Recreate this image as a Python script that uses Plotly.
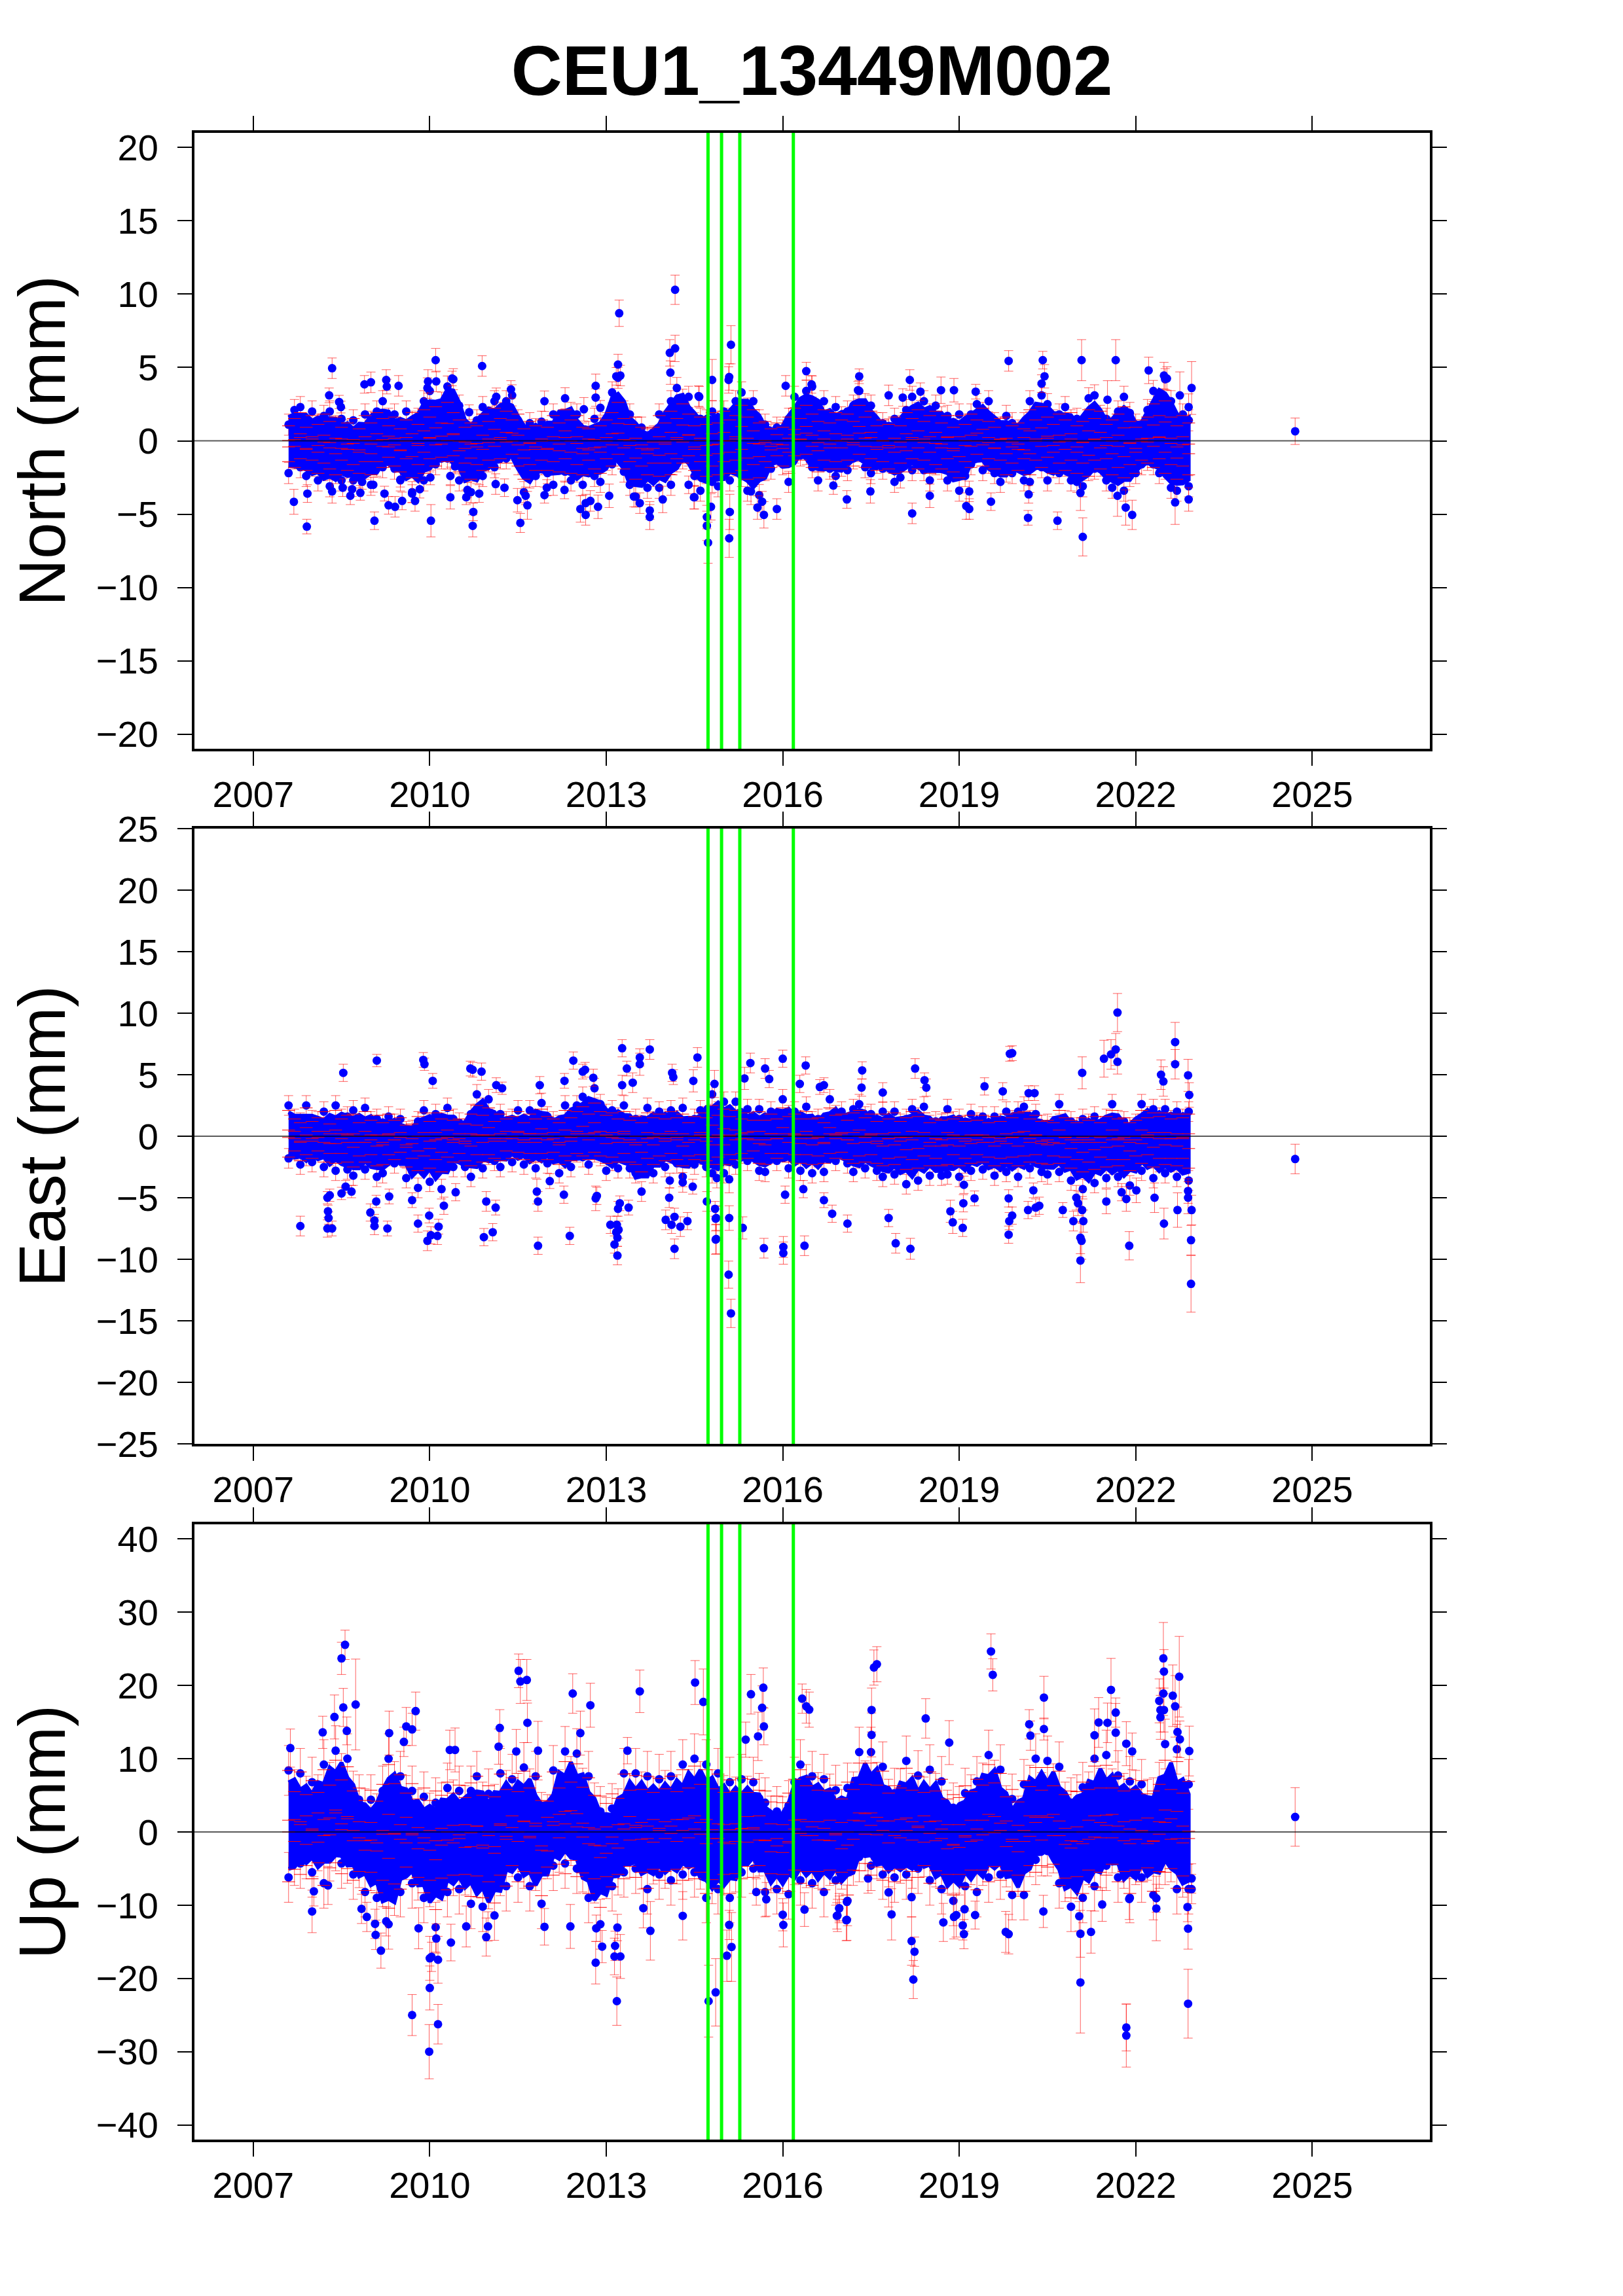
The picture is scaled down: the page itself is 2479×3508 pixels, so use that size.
import plotly.graph_objects as go

TITLE = "CEU1_13449M002"
PANEL_NAMES = ["North (mm)", "East (mm)", "Up (mm)"]
X_TICKS = [2007, 2010, 2013, 2016, 2019, 2022, 2025]
GREEN_YEARS = [2014.73, 2014.96, 2015.27, 2016.18]

# Sampling positions of the dense part of the cloud (decimal years)
cloud_years = [2007.6,2007.7,2007.8,2007.9,
 2008.0,2008.1,2008.2,2008.3,2008.4,2008.5,2008.6,2008.7,2008.8,2008.9,
 2009.0,2009.1,2009.2,2009.3,2009.4,2009.5,2009.6,2009.7,2009.8,2009.9,
 2010.0,2010.1,2010.2,2010.3,2010.4,2010.5,2010.6,2010.7,2010.8,2010.9,
 2011.0,2011.1,2011.2,2011.3,2011.4,2011.5,2011.6,2011.7,2011.8,2011.9,
 2012.0,2012.1,2012.2,2012.3,2012.4,2012.5,2012.6,2012.7,2012.8,2012.9,
 2013.0,2013.1,2013.2,2013.3,2013.4,2013.5,2013.6,2013.7,2013.8,2013.9,
 2014.0,2014.1,2014.2,2014.3,2014.4,2014.5,2014.6,2014.7,2014.8,2014.9,
 2015.0,2015.1,2015.2,2015.3,2015.4,2015.5,2015.6,2015.7,2015.8,2015.9,
 2016.0,2016.1,2016.2,2016.3,2016.4,2016.5,2016.6,2016.7,2016.8,2016.9,
 2017.0,2017.1,2017.2,2017.3,2017.4,2017.5,2017.6,2017.7,2017.8,2017.9,
 2018.0,2018.1,2018.2,2018.3,2018.4,2018.5,2018.6,2018.7,2018.8,2018.9,
 2019.0,2019.1,2019.2,2019.3,2019.4,2019.5,2019.6,2019.7,2019.8,2019.9,
 2020.0,2020.1,2020.2,2020.3,2020.4,2020.5,2020.6,2020.7,2020.8,2020.9,
 2021.0,2021.1,2021.2,2021.3,2021.4,2021.5,2021.6,2021.7,2021.8,2021.9,
 2022.0,2022.1,2022.2,2022.3,2022.4,2022.5,2022.6,2022.7,2022.8,2022.9]

# ---- North ----
north_top = [1.1,2.1,2.3,1.0,
 2.0,1.1,1.7,2.0,1.0,1.5,.7,1.4,.3,1.8,
 1.3,2.0,2.7,1.5,1.8,.7,2.0,1.3,1.5,2.7,
 3.4,2.0,2.6,3.7,4.2,2.4,1.2,.6,1.4,2.3,
 1.6,2.7,1.9,2.7,3.1,1.4,.5,1.2,.8,1.3,
 .6,1.8,1.3,2.9,1.9,1.8,.5,.6,1.5,.9,
 1.2,3.3,4.3,2.0,1.8,.9,.9,.2,.3,1.8,
 1.3,2.7,3.6,2.8,3.0,1.2,1.5,1.4,2.0,1.3,
 2.0,1.5,2.7,3.3,2.2,2.7,1.4,1.1,.4,.9,
 .7,1.5,3.0,2.2,3.4,3.7,1.8,2.7,1.3,2.3,
 1.6,2.0,2.4,3.4,2.5,2.4,1.2,1.2,.8,1.5,
 1.0,2.1,3.0,1.9,2.7,1.8,2.4,1.6,1.7,.8,
 1.8,1.1,1.8,2.5,1.9,2.7,1.2,.9,1.7,1.2,
 .7,1.2,2.7,1.8,3.1,2.5,1.4,1.8,2.3,1.4,
 1.5,.7,2.9,3.1,1.7,1.5,.9,2.0,3.0,1.9,
 1.1,.6,2.1,3.4,2.8,4.2,2.7,1.0,1.8,1.4]
north_bot = [-2.2,-1.2,-1.8,-2.4,
 -1.7,-2.7,-2.0,-3.1,-2.2,-2.7,-1.8,-2.7,-2.5,-1.9,
 -3.0,-1.7,-1.8,-1.1,-1.9,-2.7,-1.6,-3.5,-2.0,-2.7,
 -1.4,-1.6,-1.2,-1.2,-.8,-2.7,-2.0,-3.5,-2.2,-2.4,
 -1.4,-1.8,-1.2,-1.2,-.6,-1.6,-3.5,-2.5,-2.4,-1.6,
 -2.2,-3.0,-1.5,-2.1,-2.7,-2.1,-3.0,-1.7,-2.4,-2.8,
 -1.3,-1.6,-.6,-2.1,-3.0,-3.8,-2.2,-3.2,-2.4,-3.2,
 -2.0,-3.0,-1.4,-1.2,-1.0,-2.4,-3.4,-2.2,-2.8,-3.1,
 -2.0,-2.7,-1.7,-2.4,-3.4,-2.4,-3.7,-2.0,-1.9,-.9,
 -1.6,-2.8,-.8,-1.0,-.9,-1.8,-2.7,-1.3,-1.9,-2.4,
 -1.7,-2.0,-1.2,-.7,-1.8,-2.2,-1.5,-1.9,-1.4,-2.8,
 -2.5,-1.0,-2.0,-1.5,-2.0,-2.7,-1.6,-1.9,-2.7,-2.0,
 -3.4,-2.4,-1.6,-.5,-2.0,-1.5,-2.2,-2.8,-2.1,-2.2,
 -1.3,-2.7,-2.8,-1.0,-1.8,-2.7,-1.8,-2.2,-1.7,-2.7,
 -2.8,-3.1,-2.0,-1.9,-1.7,-2.7,-3.2,-2.2,-3.4,-2.4,
 -2.2,-1.6,-1.3,-1.6,-2.2,-1.9,-3.2,-3.4,-2.2,-3.1]
north_inner_hi = [.3,.8,1.2,.2,
 1.0,.4,1.1,.6,.9,.2,.5,.8,.1,1.0,
 .5,1.2,.8,.3,.9,.1,.7,1.2,.4,1.4,
 .9,1.6,.5,1.9,1.2,.7,.2,.5,.3,1.1,
 .6,1.5,.8,1.3,.7,1.1,.1,.6,.3,.7,
 .2,1.0,.5,1.4,.7,1.0,.2,.1,.8,.3,
 .7,1.2,1.9,.8,.4,.9,.2,.1,.2,1.0,
 .5,1.3,.8,1.8,1.1,.3,.9,.4,1.2,.5,
 1.3,.7,1.0,1.7,.9,1.4,.5,.6,.1,.5,
 .2,.9,1.5,.8,1.7,1.1,.6,1.4,.5,1.2,
 .7,1.1,.6,1.7,.9,1.3,.3,.7,.4,.9,
 .3,1.2,.8,1.4,.6,1.0,1.3,.5,1.0,.2,
 1.0,.4,1.1,.7,1.5,.6,.2,.8,.9,.3,
 .5,.1,1.4,.7,1.6,.9,.4,1.1,.7,1.2,
 .3,.6,1.4,.8,1.3,.4,.7,1.1,1.6,.6,
 .2,.7,.9,1.8,1.0,2.0,.9,.3,1.0,.5]
north_inner_lo = [-.7,-1.1,-.5,-1.3,
 -.6,-1.5,-.8,-1.2,-1.6,-.6,-1.3,-.9,-1.5,-.7,
 -1.6,-.7,-1.1,-.4,-1.0,-1.4,-.5,-1.8,-.9,-1.5,
 -.5,-1.0,-.4,-.7,-.3,-1.4,-.8,-1.9,-.9,-1.3,
 -.6,-1.1,-.5,-.8,-.2,-1.0,-1.9,-.9,-1.3,-.6,
 -1.3,-.7,-1.4,-.5,-1.5,-.9,-1.6,-.6,-1.2,-1.5,
 -.5,-1.0,-.2,-1.2,-.7,-1.9,-1.0,-1.6,-.8,-1.7,
 -.8,-1.6,-.5,-.8,-.3,-1.3,-.7,-1.7,-1.0,-1.6,
 -.7,-1.5,-.6,-1.3,-1.9,-.9,-1.8,-.7,-1.1,-.3,
 -1.0,-1.5,-.3,-.6,-.2,-1.1,-1.4,-.6,-1.2,-.7,
 -1.2,-.6,-1.0,-.2,-1.1,-.5,-1.3,-.7,-1.2,-1.5,
 -.8,-1.4,-.5,-1.2,-.6,-1.5,-.9,-1.2,-.5,-1.4,
 -1.8,-.7,-1.1,-.2,-1.0,-.5,-1.2,-.6,-1.6,-.8,
 -1.3,-.5,-1.6,-.6,-1.1,-.4,-1.5,-.8,-1.3,-.6,
 -1.5,-.8,-1.7,-.6,-1.2,-.5,-1.6,-1.1,-1.8,-.9,
 -1.5,-.6,-.8,-1.1,-.5,-1.5,-.9,-1.9,-1.0,-1.6]
north_sigma = 0.72
north_out_year = [2007.69,2007.91,2007.92,2008.29,2008.34,2008.46,2008.49,2008.34,2008.52,2008.65,2008.68,2008.82,2008.89,2009.0,2008.85,2009.04,2009.06,2009.23,2009.26,2009.27,2009.47,2009.3,2009.41,2009.53,2009.5,2009.75,2009.83,2009.7,2010.02,2010.01,2010.1,2009.97,2009.96,2010.11,2010.38,2010.35,2010.35,2010.43,2010.64,2010.62,2010.74,2010.73,2010.84,2010.89,2010.67,2011.12,2011.27,2011.13,2011.49,2011.54,2011.63,2011.66,2011.38,2011.95,2011.99,2011.95,2012.29,2012.56,2012.65,2012.65,2012.73,2012.86,2012.82,2012.82,2012.62,2012.9,2013.05,2013.22,2013.2,2013.24,2013.17,2014.17,2014.08,2014.17,2014.09,2013.74,2013.74,2013.57,2013.47,2013.96,2014.49,2014.58,2014.4,
 2015.12,2014.8,2015.09,2015.08,2014.57,2014.73,2014.71,2014.71,2015.09,2015.1,2014.78,2014.5,2015.68,2015.9,2015.57,2015.65,2015.46,2016.05,2016.4,2016.49,2017.3,2017.28,2018.16,2017.8,2018.04,2018.34,2018.69,2018.91,2019.28,2019.84,2020.42,2020.45,2020.4,2021.08,2021.66,2022.22,2022.48,2022.53,2022.95,2022.9,2022.75,2021.52,2018.2,2020.17,2020.67,2021.1,2021.83,2021.94,2019.54,2019.12,2019.17,2018.5,2017.49,2017.09,2016.86,2022.67,2022.9,2021.06,2021.69,2019.17,2020.18,2024.71]
north_out_val = [-4.16,-5.85,-3.6,3.1,4.95,2.65,2.3,-3.45,-3.2,-3.75,-3.3,-3.55,3.85,3.99,-2.8,-3.0,-5.45,-3.6,4.15,3.7,3.75,-4.4,-4.5,-4.1,-2.65,-4.1,-3.3,-3.6,-5.45,-2.5,5.5,4.05,3.6,4.05,4.25,-3.85,-2.4,-1.75,-3.35,-3.85,-4.85,-5.8,-3.6,5.1,1.95,-2.95,-3.2,3.0,-4.05,-5.6,-3.75,-4.4,3.5,-3.7,-3.2,2.7,-3.35,-4.65,-5.05,-4.25,-4.1,-4.5,3.75,2.95,2.15,2.25,-3.75,8.7,5.2,4.45,4.4,10.3,6.0,6.3,4.65,-5.2,-4.75,-4.25,-3.8,-4.0,-3.85,3.0,-3.0,
 6.55,4.15,4.35,4.15,3.05,-6.95,-5.8,-5.2,-6.65,-4.85,-4.5,-3.85,-5.05,-4.65,-4.55,-4.15,-3.45,3.75,4.75,3.85,4.4,3.45,4.15,3.1,2.95,3.35,3.45,3.45,3.35,5.45,5.5,4.4,3.9,5.5,5.5,4.8,4.45,4.25,3.6,2.3,3.1,2.8,-4.95,-5.25,-5.45,-6.55,-4.55,-5.05,-4.15,-4.45,-4.65,-3.75,-3.45,-4.0,-3.05,-4.2,-4.0,-3.55,-3.75,-3.45,-3.65,0.65]
north_out_err = [.85,.5,.6,.5,.7,.45,.4,.8,.6,.6,.5,.5,.6,.7,.5,.5,.6,.5,.7,.5,.7,.6,.7,.6,.5,.7,.6,.6,1.1,.5,.8,.8,.7,.7,.5,.8,.6,.5,.5,.5,.6,.75,.6,.7,.5,.7,.6,.6,.8,.65,.6,.95,.6,.55,.55,.7,.6,.9,.7,.6,.7,.8,.8,.6,.8,.5,.8,.9,.7,.7,.6,1.0,.9,.9,.8,.85,.6,.7,.7,.9,.8,.7,.6,
 1.3,1.4,.9,.9,.7,1.4,1.0,.8,1.3,1.2,.9,.8,.9,.7,.8,.7,.9,.7,.6,.6,.5,.6,.7,.7,.6,.6,.9,.8,.5,.7,.6,.8,.6,1.4,1.4,.9,.9,.8,1.8,.9,1.6,1.3,.7,.5,.6,1.3,1.2,1.0,.6,.9,.7,.8,.8,.6,.6,1.5,.8,1.2,1.4,.7,.6,.9]

# ---- East ----
east_top = [2.5,1.4,1.1,2.5,
 1.3,1.2,2.0,.7,2.5,1.4,1.6,2.1,.8,2.3,
 1.2,1.4,.9,1.6,1.0,1.4,.4,.5,1.2,2.1,
 1.0,1.8,1.1,2.3,1.4,1.1,.6,1.8,3.4,2.3,
 3.0,1.1,1.8,1.2,1.4,2.1,.8,2.1,1.4,2.7,
 1.6,1.2,.9,2.5,1.5,2.5,3.2,2.2,3.9,2.6,
 1.8,2.1,1.5,2.5,1.2,1.4,.9,2.3,1.2,2.0,
 1.4,2.1,1.3,2.3,.8,1.4,2.1,1.6,3.4,2.0,
 2.8,1.7,2.8,1.4,2.2,1.2,2.2,1.1,2.0,1.4,
 3.0,1.7,2.0,1.3,2.4,1.2,1.4,.9,3.0,1.7,
 2.0,1.1,2.2,2.6,1.6,1.8,1.0,2.0,1.2,2.0,
 1.0,1.4,2.2,1.5,2.4,.9,1.2,1.0,2.2,1.2,
 1.4,.9,1.8,1.1,1.6,.8,1.6,1.0,2.0,1.3,
 2.0,2.4,1.3,1.8,.9,1.0,.8,2.6,1.3,1.2,
 .7,1.4,1.0,1.6,.8,1.4,2.6,1.3,1.2,.7,
 1.0,2.6,1.6,2.2,1.5,2.2,1.3,2.0,1.4,2.0]
east_bot = [-1.8,-1.1,-2.3,-1.6,
 -2.1,-1.0,-2.5,-1.6,-2.8,-1.3,-2.7,-3.2,-1.9,-2.7,
 -1.5,-3.3,-3.0,-1.6,-2.2,-1.2,-3.4,-2.2,-4.2,-1.9,
 -3.7,-2.4,-4.3,-2.0,-2.5,-1.4,-2.5,-3.3,-1.6,-2.6,
 -1.5,-2.0,-2.5,-1.1,-2.1,-1.1,-2.3,-1.4,-2.6,-1.3,
 -2.2,-1.2,-3.0,-1.8,-2.5,-1.3,-1.7,-2.3,-1.3,-1.6,
 -2.8,-2.0,-2.6,-1.3,-2.6,-3.0,-4.5,-2.3,-3.0,-1.7,
 -2.5,-1.4,-2.2,-3.3,-1.8,-2.3,-1.5,-2.5,-3.0,-2.0,
 -3.0,-1.5,-2.3,-1.4,-2.0,-1.1,-2.8,-2.9,-1.4,-2.0,
 -1.3,-2.6,-1.5,-2.8,-1.6,-3.0,-1.7,-2.9,-1.3,-2.0,
 -1.1,-2.2,-2.9,-1.8,-2.6,-1.5,-2.8,-3.3,-2.2,-3.1,
 -2.0,-3.9,-2.4,-3.6,-1.8,-3.2,-2.1,-3.2,-3.1,-1.6,
 -3.3,-2.2,-2.8,-1.5,-2.7,-1.9,-3.2,-2.1,-2.9,-1.9,
 -3.3,-1.8,-2.6,-1.6,-2.9,-3.1,-1.7,-2.9,-1.9,-3.6,
 -2.4,-4.3,-2.8,-3.8,-2.0,-3.4,-2.3,-3.3,-2.4,-4.0,
 -1.8,-2.8,-1.5,-3.4,-2.1,-3.0,-2.1,-3.3,-2.2,-3.6]
east_inner_hi = [1.3,.6,.3,1.5,
 .4,.7,1.2,.2,1.3,.6,.9,1.0,.3,1.2,
 .5,.9,.3,1.0,.5,.7,.1,.2,.8,1.1,
 .4,1.1,.6,1.3,.5,.6,.2,1.0,1.7,.9,
 1.5,.4,1.0,.6,.8,1.2,.3,1.0,.6,1.4,
 .8,.6,.3,1.3,.7,1.2,1.6,1.0,1.9,1.2,
 .9,1.1,.6,1.2,.5,.8,.3,1.1,.7,1.0,
 .6,1.2,.7,1.0,.3,.8,1.1,.7,1.7,.9,
 1.4,.8,1.3,.6,1.1,.5,1.2,.5,1.0,.6,
 1.5,.8,1.0,.6,1.2,.6,.7,.3,1.5,.9,
 1.0,.5,1.1,1.3,.7,1.0,.4,1.0,.6,1.1,
 .4,.7,1.2,.8,1.1,.3,.6,.5,1.1,.6,
 .8,.4,.9,.5,.9,.3,.8,.4,1.0,.7,
 1.1,1.2,.6,.9,.4,.5,.3,1.3,.7,.5,
 .3,.7,.5,.8,.3,.8,1.3,.6,.7,.3,
 .5,1.3,.7,1.1,.8,1.1,.6,1.0,.7,1.0]
east_inner_lo = [-.9,-.4,-1.2,-.7,
 -1.0,-.4,-1.3,-.6,-1.4,-.6,-1.3,-1.7,-.8,-1.3,
 -.7,-1.6,-1.5,-.7,-1.1,-.5,-1.7,-1.0,-2.0,-.8,
 -1.8,-1.1,-2.1,-.9,-1.3,-.6,-1.2,-1.6,-.7,-1.3,
 -.7,-1.0,-1.2,-.4,-1.0,-.5,-1.1,-.6,-1.3,-.6,
 -1.1,-.5,-1.5,-.8,-1.2,-.6,-.8,-1.1,-.5,-.8,
 -1.4,-.9,-1.3,-.6,-1.3,-1.5,-2.1,-1.0,-1.5,-.8,
 -1.2,-.6,-1.1,-1.6,-.8,-1.1,-.7,-1.2,-1.5,-.9,
 -1.5,-.7,-1.1,-.6,-1.0,-.4,-1.4,-1.5,-.6,-1.0,
 -.6,-1.3,-.7,-1.4,-.7,-1.5,-.8,-1.4,-.6,-1.0,
 -.5,-1.1,-1.4,-.8,-1.3,-.7,-1.4,-1.6,-1.0,-1.5,
 -.9,-1.9,-1.1,-1.8,-.8,-1.6,-1.0,-1.6,-1.5,-.7,
 -1.6,-1.0,-1.4,-.7,-1.3,-.9,-1.6,-1.0,-1.4,-.9,
 -1.6,-.8,-1.3,-.7,-1.4,-1.5,-.8,-1.4,-.9,-1.8,
 -1.1,-2.1,-1.3,-1.9,-.9,-1.7,-1.1,-1.6,-1.1,-2.0,
 -.8,-1.4,-.7,-1.7,-1.0,-1.5,-1.0,-1.6,-1.0,-1.8]
east_sigma = 0.8
east_out_year = [2007.8,2008.26,2008.34,2008.26,2008.3,2008.27,2008.28,2008.53,2008.5,2008.57,2008.67,2009.1,2009.89,2009.91,2010.05,2008.99,2009.06,2009.06,2009.09,2009.28,2009.31,2009.8,2009.7,2009.99,2009.96,2010.02,2010.13,2010.15,2010.24,2010.44,2010.69,2010.73,2010.88,2010.96,2011.12,2010.92,2011.07,2011.13,2011.23,2011.84,2012.38,2011.84,2011.82,2012.04,2012.28,2011.87,2012.29,2012.44,2012.6,2012.64,2012.78,2013.27,2013.74,2013.57,2013.57,2013.35,2013.45,2013.27,2014.12,2014.14,2014.55,2014.48,2013.07,2013.18,2013.21,2013.17,2013.19,2013.14,2013.19,2013.23,2013.2,2013.38,2012.82,2012.84,2014.01,2014.11,2014.16,2014.26,2014.38,2014.16,2014.07,2014.3,2014.47,2014.08,2014.71,2014.85,2014.86,2014.86,2014.84,
 2015.08,2015.12,2014.87,2014.87,2015.09,2015.32,2015.09,2014.88,2015.35,2015.45,2015.7,2016.0,2015.77,2016.39,2016.29,2016.63,2016.7,2017.35,2017.34,2017.7,2018.25,2018.41,2018.44,2019.43,2019.74,2019.86,2019.9,2020.18,2020.28,2021.09,2021.46,2021.58,2021.66,2021.69,2021.69,2022.67,2022.67,2022.89,2022.43,2022.47,2022.91,2024.71,
 2015.68,2016.01,2016.01,2016.37,2016.35,2016.04,2016.7,2016.84,2017.1,2017.8,2017.92,2018.17,2018.85,2018.89,2019.06,2019.08,2019.07,2019.26,2019.84,2019.85,2019.84,2019.9,2020.17,2020.26,2020.3,2020.36,2020.76,2020.94,2021.11,2021.09,2021.06,2021.08,2021.06,2021.89,2021.5,2021.84,2022.32,2022.48,2022.71,2022.94,2022.94,2022.95,2022.89,2022.89,2022.01,2021.76,2021.02,2020.99]
east_out_val = [-7.3,-7.5,-7.5,-5.0,-4.8,-6.1,-6.65,5.15,-4.65,-4.1,-4.5,6.15,6.2,5.85,4.5,-6.2,-7.3,-6.85,-5.3,-7.5,-4.9,-7.1,-5.2,-6.45,-8.5,-8.05,-8.1,-7.35,-5.65,-4.55,5.5,5.4,5.25,-5.3,-5.8,-8.2,-7.8,4.15,3.9,-8.9,-8.1,-5.3,-4.5,-3.65,-4.75,4.15,4.5,6.15,5.25,5.4,4.75,7.15,7.05,6.4,5.85,5.5,4.35,4.15,5.15,4.8,6.4,4.5,-7.2,-7.2,-7.6,-7.8,-8.25,-8.8,-9.7,-5.45,-5.9,-5.8,-5.05,-4.85,-6.8,-7.2,-6.55,-7.35,-6.9,-9.15,-5.0,-3.75,-4.1,-3.6,-5.3,-5.9,-6.7,-8.4,4.25,
 -11.25,-14.4,-8.35,-6.65,-6.65,-7.45,-3.5,-3.4,4.7,5.95,5.5,6.3,4.65,5.75,4.25,4.0,4.15,5.35,3.95,3.55,5.5,4.55,3.95,4.05,3.65,6.7,6.75,3.5,3.5,5.15,6.3,6.65,7.05,10.05,6.05,7.65,5.85,4.95,5.0,4.45,3.35,-1.85,
 -9.1,-9.0,-9.5,-8.9,-4.3,-4.75,-5.2,-6.3,-7.1,-6.65,-8.7,-9.15,-6.1,-7.0,-7.45,-3.95,-5.45,-5.05,-5.05,-6.9,-8.0,-6.45,-6.0,-4.4,-5.8,-5.65,-6.0,-6.9,-6.9,-6.0,-8.25,-8.5,-10.1,-8.9,-5.3,-5.1,-5.0,-7.1,-6.0,-8.45,-12.0,-6.0,-4.45,-5.0,-4.4,-4.55,-5.45,-5.0]
east_out_err = [.8,.7,.6,.5,.5,.5,.5,.7,.5,.5,.5,.5,.6,.5,.6,.7,.7,.5,.5,.6,.6,.7,.6,.6,.8,.7,.7,.6,.7,.7,.6,.6,.7,.8,.6,.7,.7,.6,.5,.7,.7,.8,1.0,.6,.7,.7,.6,.7,.6,.6,.7,.7,.8,.7,.9,.6,.8,.8,.7,.6,.8,.9,.7,.7,.7,.7,.7,.7,.75,.6,.6,.6,1.0,.7,.8,.7,.7,.8,.7,.8,.8,.8,.6,.6,.8,.6,1.0,1.2,1.1,
 1.1,1.15,1.2,1.0,1.0,.9,1.1,.8,.9,.8,.8,.7,.7,.7,.7,.6,.6,.7,.7,.8,.8,.6,.7,.7,.7,.6,.6,.6,.6,1.3,1.5,1.2,1.3,1.55,1.0,1.6,1.2,1.3,1.2,1.2,1.0,1.2,
 .8,.85,.9,.8,.7,.7,.6,.7,.7,.7,.8,.85,.9,.9,.7,.7,.7,.6,.7,.7,.7,.7,.7,.6,.7,.7,.6,.8,.9,1.1,1.3,1.5,1.8,1.15,1.0,1.0,1.2,1.25,1.4,1.2,2.3,1.2,1.0,1.3,1.0,.7,1.0,1.0]

# ---- Up ----
up_top = [8.4,5.1,8.0,4.2,
 6.8,4.4,9.2,6.1,11.1,7.3,10.0,4.9,4.4,2.5,
 4.4,1.8,5.6,10.0,6.2,7.6,4.3,5.6,2.4,4.8,
 1.9,4.0,3.3,6.0,3.7,5.6,2.9,5.6,7.6,3.4,
 5.2,3.1,8.0,5.0,7.2,4.6,8.8,5.2,7.6,2.0,
 1.7,8.4,5.1,11.0,6.9,10.7,5.3,7.6,3.3,2.8,
 1.3,3.2,2.5,8.0,4.6,8.0,4.8,7.6,4.1,7.2,
 5.0,7.6,4.4,9.2,5.1,10.0,6.2,9.2,5.1,8.0,
 4.3,6.8,4.1,7.2,4.2,6.8,4.6,4.0,1.5,2.8,
 1.4,3.6,6.8,9.2,5.8,7.6,4.7,7.2,4.5,5.7,
 2.4,6.0,4.8,10.9,6.3,10.9,6.1,8.9,3.8,5.3,
 5.2,9.7,4.6,7.7,4.1,8.5,4.6,6.9,2.3,3.3,
 2.8,5.3,4.4,6.9,6.0,10.5,6.4,8.5,2.9,4.5,
 1.5,6.5,5.7,10.0,4.7,9.7,5.9,8.9,3.4,4.0,
 4.4,6.1,4.8,10.0,5.3,10.5,5.2,7.7,4.6,6.9,
 5.0,6.5,3.8,4.0,6.1,12.0,5.0,11.3,3.8,6.5]
up_bot = [-6.2,-3.9,-4.3,-3.0,
 -5.5,-1.9,-7.0,-3.3,-1.9,-4.3,-3.6,-5.8,-4.2,-8.2,
 -4.6,-9.0,-6.8,-12.6,-8.0,-8.2,-3.1,-7.0,-5.9,-9.0,
 -6.8,-13.0,-6.0,-8.2,-5.3,-7.8,-5.2,-9.8,-5.5,-10.2,
 -7.1,-11.4,-5.3,-7.4,-2.7,-6.2,-4.3,-7.4,-4.6,-9.8,
 -3.0,-4.6,-2.1,-4.3,-1.2,-5.0,-4.8,-9.0,-6.3,-12.6,
 -5.7,-7.4,-5.2,-5.5,-2.8,-5.0,-4.4,-7.8,-3.7,-5.8,
 -4.3,-6.6,-3.7,-5.8,-3.2,-5.5,-4.4,-9.0,-6.4,-7.8,
 -5.2,-9.0,-4.8,-5.5,-2.8,-5.0,-2.6,-8.2,-4.9,-7.8,
 -5.0,-8.5,-3.8,-6.6,-4.2,-7.0,-4.3,-8.2,-3.9,-6.6,
 -4.4,-9.4,-3.9,-3.4,-1.9,-4.6,-3.0,-5.8,-4.1,-6.2,
 -3.6,-5.8,-4.3,-5.0,-2.7,-6.6,-4.1,-7.8,-5.0,-9.4,
 -5.2,-7.4,-3.8,-8.2,-3.9,-6.2,-2.9,-5.8,-4.1,-8.6,
 -5.4,-8.6,-2.7,-3.8,-2.6,-2.6,-2.2,-7.0,-6.1,-10.2,
 -5.7,-9.0,-3.8,-7.4,-4.6,-4.6,-2.2,-6.2,-4.3,-9.0,
 -3.8,-6.2,-3.2,-8.6,-4.3,-3.8,-3.4,-7.8,-5.5,-7.8]
up_inner_hi = [5.0,2.1,4.8,1.7,
 3.6,2.0,5.1,3.0,6.4,3.7,5.5,2.2,2.6,.9,
 2.3,.8,3.1,5.8,3.2,4.4,1.9,3.2,1.1,2.6,
 .9,2.2,1.6,3.4,1.9,3.0,1.3,3.3,4.2,1.6,
 2.9,1.4,4.5,2.4,4.0,2.1,4.9,2.6,4.2,.9,
 .8,4.8,2.6,6.2,3.4,5.9,2.7,4.0,1.6,1.5,
 .5,1.8,1.2,4.5,2.3,4.3,2.4,4.2,2.0,3.9,
 2.5,4.2,2.1,5.1,2.6,5.6,3.1,5.1,2.5,4.5,
 2.0,3.7,2.1,3.9,2.0,3.8,2.3,2.2,.7,1.5,
 .6,1.9,3.8,5.1,2.9,4.1,2.3,3.9,2.2,3.0,
 1.1,3.4,2.4,6.0,3.1,6.0,3.0,4.9,1.9,2.9,
 2.6,5.3,2.3,4.2,2.0,4.8,2.2,3.8,1.1,1.7,
 1.3,2.9,2.1,3.8,3.0,5.8,3.3,4.6,1.4,2.4,
 .7,3.6,2.8,5.4,2.3,5.4,2.9,4.9,1.7,2.2,
 2.1,3.4,2.4,5.6,2.6,5.7,2.6,4.2,2.2,3.8,
 2.4,3.6,1.8,2.2,3.1,6.4,2.4,6.2,1.9,3.5]
up_inner_lo = [-3.4,-1.7,-2.4,-1.2,
 -3.0,-.8,-3.9,-1.5,-.8,-2.3,-1.6,-3.2,-2.0,-4.6,
 -2.1,-4.9,-3.2,-7.0,-3.7,-4.4,-1.4,-3.8,-2.8,-4.9,
 -3.2,-7.2,-2.9,-4.5,-2.5,-4.3,-2.4,-5.4,-2.6,-5.6,
 -3.4,-6.3,-2.5,-4.0,-1.2,-3.4,-2.0,-4.0,-2.2,-5.3,
 -1.4,-2.5,-1.0,-2.3,-.5,-2.7,-2.2,-5.0,-3.0,-6.9,
 -2.7,-4.1,-2.4,-3.0,-1.3,-2.8,-2.1,-4.3,-1.7,-3.2,
 -2.0,-3.6,-1.7,-3.2,-1.5,-3.0,-2.1,-5.0,-3.1,-4.3,
 -2.4,-5.0,-2.3,-3.0,-1.3,-2.8,-1.2,-4.5,-2.3,-4.3,
 -2.4,-4.7,-1.8,-3.6,-2.0,-3.9,-2.0,-4.5,-1.8,-3.6,
 -2.1,-5.2,-1.8,-1.9,-.9,-2.5,-1.4,-3.2,-1.9,-3.4,
 -1.7,-3.2,-2.0,-2.8,-1.2,-3.6,-1.9,-4.3,-2.4,-5.2,
 -2.4,-4.1,-1.8,-4.5,-1.8,-3.4,-1.3,-3.2,-1.9,-4.7,
 -2.5,-4.7,-1.2,-2.1,-1.2,-1.4,-1.0,-3.9,-2.9,-5.6,
 -2.7,-5.0,-1.8,-4.1,-2.1,-2.5,-1.0,-3.4,-2.0,-5.0,
 -1.8,-3.4,-1.5,-4.7,-2.0,-2.1,-1.6,-4.3,-2.6,-4.3]
up_sigma = 3.4
up_out_year = [2007.63,2008.0,2008.03,2008.5,2008.56,2008.74,2008.53,2008.18,2008.38,2008.59,2008.27,2009.31,2009.6,2009.76,2009.7,2009.56,2009.17,2009.08,2009.07,2009.26,2008.93,2008.84,2010.0,2009.7,2010.14,2009.99,2010.0,2010.03,2010.14,2010.11,2009.81,2010.36,2010.62,2010.96,2010.99,2010.34,2010.43,2011.19,2011.17,2011.51,2011.54,2011.65,2011.66,2011.84,2011.47,2011.95,2012.39,2012.43,2012.73,2012.56,2013.57,2013.36,2012.82,2012.93,2013.15,2013.14,2013.24,2013.18,2012.83,2013.19,2013.63,2013.75,2014.3,2014.51,2014.65,2014.74,2014.86,2015.05,2015.13,2015.09,2015.46,2015.67,2015.65,2015.68,2015.37,2015.58,2016.01,2016.0,2015.72,2015.55,2016.37,2016.33,2016.4,2016.45,2016.93,2017.09,2016.96,
 2017.55,2017.6,2017.51,2017.51,2018.43,2018.83,2019.54,2019.57,2020.44,2020.44,2020.19,2020.21,2021.58,2021.66,2021.66,2021.37,2021.52,2021.3,2022.47,2022.48,2022.74,2022.47,2022.4,2022.63,2022.67,2022.42,2022.48,2022.42,2022.71,2022.91,2022.75,2021.84,2021.94,2024.71,
 2018.22,2018.24,2018.19,2017.85,2017.8,2018.19,2018.73,2019.08,2019.06,2018.95,2018.91,2019.09,2019.27,2019.79,2019.84,2020.43,2021.06,2021.06,2021.24,2021.04,2021.43,2021.84,2021.84,2022.89,2022.89,2022.88,2022.35,2022.35,2021.89,2022.95,2022.95,2017.45,2016.92,2016.96,2017.08,2017.09]
up_out_val = [11.45,-10.85,-8.1,23.7,25.55,17.4,17.0,13.6,15.7,13.8,-7.3,13.5,14.4,16.5,14.0,12.3,-16.2,-14.05,-12.55,-12.2,-11.6,-10.5,-21.3,-25.0,-26.25,-30.0,-17.25,-17.05,-17.45,-14.55,-13.15,-15.1,-12.9,-14.35,-12.9,11.2,11.2,14.2,11.65,22.0,20.55,20.75,14.9,11.1,11.0,-12.95,-12.9,18.9,17.3,13.5,19.2,11.1,-17.85,-15.65,-15.55,-17.0,-17.0,-23.1,-13.15,-13.05,-10.4,-13.5,-11.45,20.4,17.75,-23.1,-21.9,-16.9,-15.7,-12.7,18.8,19.7,16.95,14.4,12.6,13.05,-12.7,-11.3,-9.2,-8.2,-10.6,18.2,17.15,16.7,-11.4,-12.0,-10.4,
 22.45,22.9,16.65,13.25,15.5,12.2,24.65,21.45,18.35,14.05,14.7,13.15,19.4,16.3,13.55,14.95,14.9,13.2,23.7,21.9,21.2,18.9,17.9,18.6,17.15,16.65,16.65,15.65,13.65,11.05,12.65,12.05,11.0,2.05,
 -20.15,-16.35,-14.9,-11.25,-8.25,-8.9,-12.35,-13.95,-12.75,-11.35,-11.6,-10.55,-11.35,-13.65,-13.95,-10.85,-13.9,-20.55,-13.65,-11.5,-9.9,-26.7,-27.8,-23.45,-13.2,-10.25,-10.45,-9.05,-9.15,-7.8,-6.35,-6.35,-11.45,-10.45,-12.05,-9.55]
up_out_err = [2.6,2.9,2.0,2.2,2.0,6.2,2.6,2.2,3.0,1.9,2.6,3.0,2.6,2.6,2.2,2.0,2.4,2.0,2.0,2.0,2.0,2.0,3.0,2.8,2.7,3.7,3.0,2.0,3.2,2.0,2.8,2.5,2.8,2.6,2.0,2.7,3.0,2.5,2.4,2.3,3.0,2.8,2.7,4.0,3.0,2.5,3.0,2.7,3.0,3.0,2.9,1.8,2.9,2.2,2.0,2.5,3.0,3.3,1.8,1.8,2.7,4.0,3.3,3.0,4.5,4.9,4.6,3.5,4.7,2.0,2.7,2.7,3.0,2.5,2.4,3.3,3.0,2.2,2.3,1.8,2.3,2.0,2.3,2.4,2.2,2.8,2.0,
 2.4,2.4,3.0,3.0,2.7,3.0,2.4,2.2,2.9,1.5,2.0,2.0,4.3,2.0,4.0,3.4,2.7,3.6,4.9,3.0,5.5,3.0,3.0,4.2,4.2,3.0,3.0,3.0,3.4,3.4,2.5,3.0,2.5,4.0,
 2.6,2.0,3.3,3.5,2.0,2.7,2.6,2.0,2.0,3.0,3.0,3.0,1.9,2.8,2.7,2.2,3.2,6.9,2.9,2.0,2.3,3.2,4.3,4.7,2.8,2.0,4.4,1.9,2.8,2.0,2.0,2.0,1.8,1.7,2.8,2.3]

panels = [
    (north_top, north_bot, north_inner_hi, north_inner_lo, north_sigma,
     north_out_year, north_out_val, north_out_err, [-21, 21], list(range(-20, 21, 5))),
    (east_top, east_bot, east_inner_hi, east_inner_lo, east_sigma,
     east_out_year, east_out_val, east_out_err, [-25, 25], list(range(-25, 26, 5))),
    (up_top, up_bot, up_inner_hi, up_inner_lo, up_sigma,
     up_out_year, up_out_val, up_out_err, [-42, 42], list(range(-40, 41, 10))),
]

W, H = 2479, 3508
PAGE = 8  # the page's own margin shifts the figure by this many pixels
FRAME_X = (297 - PAGE, 2184 - PAGE)
FRAME_Y = [(203 - PAGE, 1144 - PAGE), (1266 - PAGE, 2206 - PAGE), (2329 - PAGE, 3269 - PAGE)]
FONT = "Liberation Sans"
BLUE = "#0000FF"
RED = "rgba(255,0,0,0.62)"


def body_edge(values):
    """Edge of the solid body: the running mean of the sampled cloud edge."""
    edge = []
    for k in range(len(values)):
        near = values[max(k - 1, 0):k + 2]
        edge.append(sum(near) / len(near))
    return edge


fig = go.Figure()
layout = dict(
    width=W, height=H, autosize=False,
    margin=dict(l=0, r=0, t=0, b=0, autoexpand=False),
    paper_bgcolor="white", plot_bgcolor="white",
    showlegend=False,
    font=dict(family=FONT, color="black"),
    title=dict(text=f"<b>{TITLE}</b>", x=(1240 - PAGE) / W, xanchor="center", y=1 - (110 - PAGE - 3) / H,
               yanchor="middle", font=dict(size=108, family=FONT, color="black")),
)
shapes = []

for i, p in enumerate(panels):
    top, bot, in_hi, in_lo, sigma, oy, ov, oe, yrange, yticks = p
    sfx = "" if i == 0 else str(i + 1)
    xa, ya = f"x{sfx}", f"y{sfx}"
    # edge of the dense cloud, with its error bars
    fig.add_trace(go.Scatter(
        x=cloud_years + cloud_years, y=top + bot, mode="markers", xaxis=xa, yaxis=ya,
        marker=dict(size=13, color=BLUE, line=dict(width=0)),
        error_y=dict(type="constant", value=sigma, color=RED, thickness=1, width=7),
    ))
    # outlying daily solutions
    fig.add_trace(go.Scatter(
        x=oy, y=ov, mode="markers", xaxis=xa, yaxis=ya,
        marker=dict(size=13, color=BLUE, line=dict(width=0)),
        error_y=dict(type="data", array=oe, color=RED, thickness=1, width=7),
    ))
    # dense body of the cloud
    fig.add_trace(go.Scatter(
        x=cloud_years + cloud_years[::-1], y=body_edge(top) + body_edge(bot)[::-1], mode="lines",
        fill="toself", fillcolor=BLUE, line=dict(color=BLUE, width=6),
        xaxis=xa, yaxis=ya, hoverinfo="skip",
    ))
    # error-bar caps showing through the dense body
    inner = in_hi + in_lo
    caps_y = [v + sigma for v in inner] + [v - sigma for v in inner]
    fig.add_trace(go.Scatter(
        x=(cloud_years + cloud_years) * 2, y=caps_y, mode="markers", xaxis=xa, yaxis=ya,
        marker=dict(symbol="line-ew", size=14, line=dict(color="#FF0000", width=1)),
        hoverinfo="skip",
    ))
    layout[f"xaxis{sfx}"] = dict(
        domain=[FRAME_X[0] / W, FRAME_X[1] / W], range=[2006, 2027], anchor=ya,
        tickmode="array", tickvals=X_TICKS, ticktext=[str(v) for v in X_TICKS],
        ticks="outside", ticklen=22, tickwidth=2, tickcolor="black", ticklabelstandoff=-4,
        showline=True, linewidth=4, linecolor="black", mirror="ticks",
        showgrid=False, zeroline=False, tickfont=dict(size=56, family=FONT, color="black"),
    )
    y0, y1 = FRAME_Y[i]
    layout[f"yaxis{sfx}"] = dict(
        domain=[1 - y1 / H, 1 - y0 / H], range=yrange, anchor=xa,
        tickmode="array", tickvals=yticks,
        ticks="outside", ticklen=22, tickwidth=2, tickcolor="black", ticklabelstandoff=18,
        showline=True, linewidth=4, linecolor="black", mirror="ticks",
        showgrid=False, zeroline=False, tickfont=dict(size=56, family=FONT, color="black"),
        title=dict(text=PANEL_NAMES[i], standoff=30, font=dict(size=100, family=FONT, color="black")),
    )
    shapes.append(dict(type="line", xref=f"{xa} domain", yref=ya, x0=0, x1=1, y0=0, y1=0,
                       line=dict(color="rgba(0,0,0,0.65)", width=2), layer="above"))
    for g in GREEN_YEARS:
        shapes.append(dict(type="line", xref=xa, yref=f"{ya} domain", x0=g, x1=g, y0=0, y1=1,
                           line=dict(color="#00FF00", width=5), layer="above"))

layout["shapes"] = shapes
fig.update_layout(**layout)
fig.write_html("out.html")
